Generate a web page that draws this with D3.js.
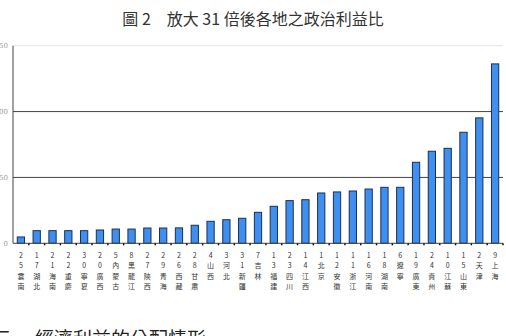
<!DOCTYPE html>
<html>
<head>
<meta charset="utf-8">
<script src="https://cdn.jsdelivr.net/npm/d3@7"></script>
<style>
  body { margin: 0; background: #fff; }
  svg { display: block; }
</style>
</head>
<body>
<svg id="chart" width="506" height="336"></svg>
<script>
// provinces sorted by ratio, with their rank number
const regions = ["雲南", "湖北", "海南", "重慶", "寧夏", "廣西", "內蒙古", "黑龍江", "陝西", "青海", "西藏",
  "甘肅", "山西", "河北", "新疆", "吉林", "福建", "四川", "江西", "北京", "安徽", "浙江",
  "河南", "湖南", "遼寧", "廣東", "貴州", "江蘇", "山東", "天津", "上海"];
const codes = [25, 17, 21, 22, 30, 20, 5, 8, 27, 29, 26, 28, 4, 3, 31, 7, 13, 23, 14, 1, 12, 11,
  16, 18, 6, 19, 24, 10, 15, 2, 9];
const ratios = [4.8, 9.6, 9.6, 9.6, 9.6, 10.1, 10.8, 10.8, 11.6, 11.6, 11.7, 13.7, 16.7, 17.9, 19.0,
  23.5, 28.1, 32.4, 33.1, 38.2, 39.0, 39.7, 41.2, 42.5, 42.5, 61.5, 69.9, 72.1, 84.3, 95.2, 136.2];
const yTicks = [0, 50, 100, 150];

const title = "圖 2　放大 31 倍後各地之政治利益比";

const svg = d3.select("#chart");
const plotLeft = 13, plotRight = 503, plotTop = 45.7, plotBottom = 243.3;

const x = d3.scaleBand()
    .domain(d3.range(regions.length))
    .range([plotLeft, plotRight])
    .paddingInner(0.54)
    .paddingOuter(0.27);

const y = d3.scaleLinear().domain([0, 150]).range([plotBottom, plotTop]);

svg.append("text")
    .attr("x", 253)
    .attr("y", 25)
    .attr("text-anchor", "middle")
    .attr("font-family", "'Noto Sans CJK TC', sans-serif")
    .attr("font-size", "16px")
    .attr("fill", "#333")
    .text(title);

// gridlines
svg.selectAll("line.grid")
    .data(yTicks.filter(d => d > 0))
    .enter()
    .append("line")
    .attr("class", "grid")
    .attr("x1", plotLeft)
    .attr("x2", plotRight)
    .attr("y1", d => y(d))
    .attr("y2", d => y(d))
    .attr("stroke", d => d === 150 ? "#e4e4e4" : "#444")
    .attr("stroke-width", 1);

// y tick labels (left part is cut off by the page edge)
svg.selectAll("text.ytick")
    .data(yTicks)
    .enter()
    .append("text")
    .attr("class", "ytick")
    .attr("x", 8)
    .attr("y", d => y(d) + 2.5)
    .attr("text-anchor", "end")
    .attr("font-family", "'DejaVu Serif', serif")
    .attr("font-size", "7px")
    .attr("fill", "#999")
    .text(d => d);

// bars
svg.selectAll("rect.bar")
    .data(ratios)
    .enter()
    .append("rect")
    .attr("class", "bar")
    .attr("x", (d, i) => x(i))
    .attr("y", d => y(d))
    .attr("width", x.bandwidth())
    .attr("height", d => y(0) - y(d))
    .attr("fill", "#3f8ff0")
    .attr("stroke", "#1c2f52")
    .attr("stroke-width", 1);

// axes
svg.append("line")
    .attr("x1", plotLeft).attr("x2", plotLeft)
    .attr("y1", plotTop).attr("y2", plotBottom)
    .attr("stroke", "#444");

svg.append("line")
    .attr("x1", plotLeft).attr("x2", plotRight)
    .attr("y1", plotBottom).attr("y2", plotBottom)
    .attr("stroke", "#444");

const gap = (x.step() - x.bandwidth()) / 2;
svg.selectAll("line.xtick")
    .data(d3.range(regions.length))
    .enter()
    .append("line")
    .attr("class", "xtick")
    .attr("x1", i => x(i) + x.bandwidth() + gap)
    .attr("x2", i => x(i) + x.bandwidth() + gap)
    .attr("y1", plotBottom)
    .attr("y2", plotBottom + 2)
    .attr("stroke", "#111")
    .attr("stroke-width", 1.5);

// vertical category labels: number digits then name, one glyph per row
const lab = svg.selectAll("text.xlab")
    .data(d3.range(regions.length))
    .enter()
    .append("text")
    .attr("class", "xlab")
    .attr("text-anchor", "middle")
    .attr("font-family", "'Noto Sans CJK TC', sans-serif")
    .attr("font-size", "7px")
    .attr("fill", "#333");

lab.selectAll("tspan")
    .data(i => Array.from(String(codes[i]) + regions[i]).map(c => ({ c, i })))
    .enter()
    .append("tspan")
    .attr("x", d => x(d.i) + x.bandwidth() / 2)
    .attr("y", (d, k) => 257.5 + k * 10.5)
    .text(d => d.c);

// following section heading, cut by the bottom edge
svg.append("text")
    .attr("x", -8)
    .attr("y", 346)
    .attr("font-family", "'Noto Sans CJK TC', sans-serif")
    .attr("font-size", "19px")
    .attr("fill", "#222")
    .text("三");
svg.append("text")
    .attr("x", 35)
    .attr("y", 346)
    .attr("font-family", "'Noto Sans CJK TC', sans-serif")
    .attr("font-size", "19px")
    .attr("fill", "#222")
    .text("經濟利益的分配情形");
</script>
</body>
</html>
